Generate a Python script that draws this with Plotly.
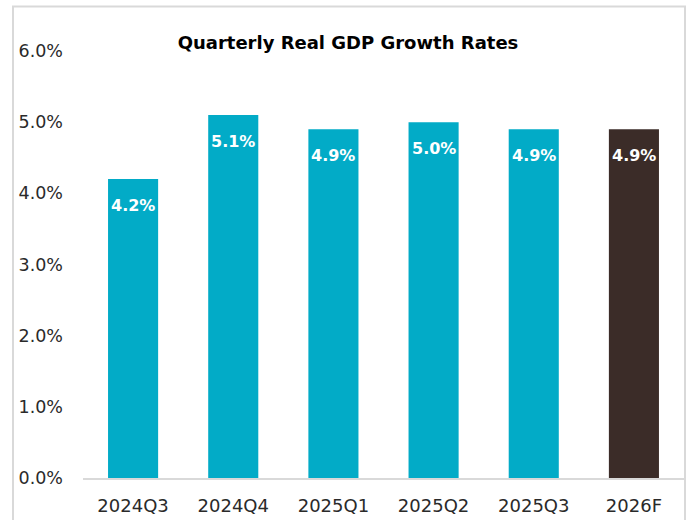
import plotly.graph_objects as go

categories = ["2024Q3", "2024Q4", "2025Q1", "2025Q2", "2025Q3", "2026F"]
growth = [4.2, 5.1, 4.9, 5.0, 4.9, 4.9]
bar_colors = ["#02ABC7", "#02ABC7", "#02ABC7", "#02ABC7", "#02ABC7", "#3B2C28"]
y_ticks = [0, 1, 2, 3, 4, 5, 6]
y_tick_labels = ["0.0%", "1.0%", "2.0%", "3.0%", "4.0%", "5.0%", "6.0%"]
title_text = "Quarterly Real GDP Growth Rates"

FONT = "DejaVu Sans"

fig = go.Figure()
fig.add_trace(go.Bar(
    x=categories, y=growth,
    marker=dict(color=bar_colors, line=dict(width=0)),
    hoverinfo="skip",
))

for c, v in zip(categories, growth):
    fig.add_annotation(
        x=c, y=v, text=f"<b>{v:.1f}%</b>", showarrow=False,
        yanchor="middle", yshift=-26,
        font=dict(family=FONT, size=16, color="white"),
    )

W, H = 686, 520
L, R, T, B = 83, 2, 51, 42
pw, ph = W - L - R, H - T - B

def px_x(px):
    return (px - L) / pw

def px_y(py):
    return (H - B - py) / ph

fig.add_shape(type="rect", xref="paper", yref="paper",
              x0=px_x(13), x1=px_x(685), y0=px_y(540), y1=px_y(6.5),
              line=dict(color="#D9D9D9", width=2), layer="below")

fig.update_layout(
    width=W, height=H,
    margin=dict(l=L, r=R, t=T, b=B),
    paper_bgcolor="white", plot_bgcolor="white",
    bargap=0.5,
    showlegend=False,
    title=dict(text=f"<b>{title_text}</b>", x=348 / W, xanchor="center",
               y=1 - 43 / H, yanchor="middle", xref="container", yref="container",
               font=dict(family=FONT, size=18, color="black")),
    font=dict(family=FONT, size=18, color="#2A2A2A"),
)
fig.update_xaxes(showline=True, linecolor="#D9D9D9", linewidth=1.5, ticks="",
                 tickfont=dict(family=FONT, size=18, color="#2A2A2A"),
                 ticklabelstandoff=11)
fig.update_yaxes(range=[0, 6], tickvals=y_ticks, ticktext=y_tick_labels,
                 showgrid=False, zeroline=False, showline=False, ticks="",
                 ticklabelstandoff=19,
                 tickfont=dict(family=FONT, size=17.5, color="#2A2A2A"))

fig.write_html("out.html")
